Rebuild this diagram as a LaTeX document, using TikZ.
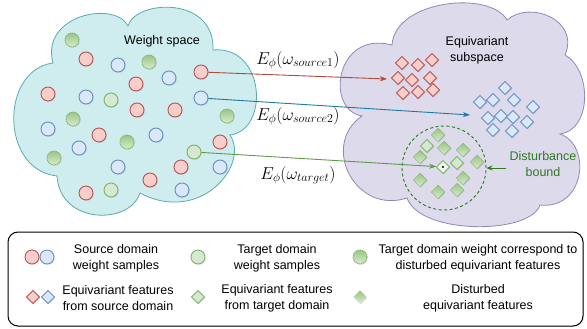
\documentclass[tikz,border=0pt]{standalone}
\usepackage{amsmath}
\usepackage{fontspec}
\setmainfont{Liberation Sans}
\usetikzlibrary{positioning, calc, shapes.geometric, shadows, arrows.meta}

\definecolor{redfill}{HTML}{F8CECC}
\definecolor{redline}{HTML}{B85450}
\definecolor{bluefill}{HTML}{DAE8FC}
\definecolor{blueline}{HTML}{6C8EBF}
\definecolor{greenfill}{HTML}{D5E8D4}
\definecolor{greenline}{HTML}{82B366}
\definecolor{greendark}{HTML}{9CC487}
\definecolor{greenlight}{HTML}{D8EBCF}
\definecolor{tealfill}{HTML}{CFEDEF}
\definecolor{tealline}{HTML}{5BAAB0}
\definecolor{lilacfill}{HTML}{DCDAEB}
\definecolor{lilacline}{HTML}{8E89B6}
\definecolor{redarrow}{HTML}{B04A3C}
\definecolor{bluearrow}{HTML}{1F78A0}
\definecolor{greenarrow}{HTML}{5F9A4A}
\definecolor{boundgreen}{HTML}{2D7A1F}

\tikzset{
    softshadow/.style={drop shadow={opacity=0.22, shadow xshift=0.8pt, shadow yshift=-0.8pt}},
    sample/.style={circle, minimum size=14pt, inner sep=0pt, line width=0.9pt, softshadow},
    srcred/.style={sample, draw=redline, fill=redfill},
    srcblue/.style={sample, draw=blueline, fill=bluefill},
    tgtgreen/.style={sample, draw=greenline, fill=greenfill},
    distgreen/.style={sample, draw=greenline, dash pattern=on 1.2pt off 0.8pt,
        top color=greendark, bottom color=greenlight},
    feat/.style={diamond, minimum size=13.5pt, inner sep=0pt, line width=0.9pt, softshadow},
    featred/.style={feat, draw=redline, fill=redfill},
    featblue/.style={feat, draw=blueline, fill=bluefill},
    featgreen/.style={feat, draw=greenline, fill=greenfill},
    featdist/.style={feat, draw=greenline, line width=0.5pt,
        top color=greendark, bottom color=greenlight},
    txt/.style={align=center, font=\fontsize{12.5}{16}\selectfont},
    maplabel/.style={font=\fontsize{17.28}{20}\selectfont},
    maparrow/.style={line width=0.9pt, -{Stealth[length=7pt, width=5pt, inset=2pt]}}
}

\begin{document}
\begin{tikzpicture}[x=1pt, y=-1pt]
    \useasboundingbox (0,0) rectangle (587,329);

    % weight space cloud
    \draw[tealline, fill=tealfill, line width=0.8pt]
        (53,63) .. controls (40,15) and (115,0) .. (128,26)
        .. controls (135,0) and (215,-5) .. (213,50)
        .. controls (265,45) and (270,130) .. (230,135)
        .. controls (250,165) and (200,225) .. (140,193)
        .. controls (130,225) and (60,225) .. (57,176)
        .. controls (0,170) and (0,70) .. (53,63) -- cycle;

    % equivariant subspace cloud
    \draw[lilacline, fill=lilacfill, line width=0.8pt]
        (362,116) .. controls (325,110) and (335,30) .. (392,45)
        .. controls (395,0) and (490,-10) .. (507,20)
        .. controls (530,0) and (580,20) .. (565,55)
        .. controls (592,70) and (592,130) .. (560,134)
        .. controls (592,145) and (585,210) .. (540,205)
        .. controls (530,235) and (420,235) .. (407,198)
        .. controls (355,215) and (320,145) .. (362,116) -- cycle;

    \node[txt] (wtitle) at (162,41) {Weight space};
    \node[txt] (etitle) at (477,50) {Equivariant\\subspace};

    % weight samples
    \foreach \x/\y [count=\i] in {86/59, 136/84, 48/94, 137/110, 175/110, 99/135,
            220/142, 181/167, 150/180, 86/193}
        \node[srcred] (r\i) at (\x,\y) {};
    \foreach \x/\y [count=\i] in {118/65, 169/78, 86/97, 48/129, 79/148, 156/135,
            118/167, 220/167, 182/190}
        \node[srcblue] (b\i) at (\x,\y) {};
    \foreach \x/\y [count=\i] in {111/100, 111/190}
        \node[tgtgreen] (g\i) at (\x,\y) {};
    \foreach \x/\y [count=\i] in {72/40, 149/62, 73/119, 54/158, 127/142, 227/116}
        \node[distgreen] (d\i) at (\x,\y) {};

    \node[srcred]   (srcA) at (201,72) {};
    \node[srcblue]  (srcB) at (201,98) {};
    \node[tgtgreen] (tgtA) at (194,152) {};

    % equivariant features
    \foreach \x/\y [count=\i] in {402/63, 418/65, 432/60, 398/78, 412/80, 430/78,
            403/93, 418/92, 433/90}
        \node[featred] (fr\i) at (\x,\y) {};
    \foreach \x/\y [count=\i] in {505/88, 480/102, 493/100, 514/100, 533/107,
            488/118, 501/116, 513/117, 527/122, 493/130, 512/131}
        \node[featblue] (fb\i) at (\x,\y) {};

    % disturbance region
    \node[circle, minimum size=84pt, draw=boundgreen, line width=0.9pt,
          dash pattern=on 3pt off 2.5pt] (bound) at (444,168) {};
    \foreach \x/\y [count=\i] in {438/135, 444/148, 463/150, 420/157, 477/162,
            420/180, 463/178, 438/192, 457/190}
        \node[featdist] (fd\i) at (\x,\y) {};
    \node[featgreen] (fg1) at (427,146) {};
    \node[featgreen] (fg2) at (457,163) {};
    \node[featgreen, fill=greenfill!40] (ctr) at (443,167) {};
    \fill (ctr) circle (1.1pt);

    \coordinate (redtip) at (387,79);
    \coordinate (bluetip) at (470,115);

    % mapping arrows
    \draw[maparrow, redarrow] (srcA) -- (redtip);
    \draw[maparrow, bluearrow] (srcB) -- (bluetip);
    \draw[maparrow, greenarrow] (tgtA) -- (ctr);

    \node[maplabel] (mapA) at (298,60) {$E_{\phi}(\omega_{source1})$};
    \node[maplabel] (mapB) at (298,116) {$E_{\phi}(\omega_{source2})$};
    \node[maplabel] (mapC) at (298,175) {$E_{\phi}(\omega_{target})$};

    \node[txt, text=boundgreen] (dtext) at (543,164) {Disturbance\\bound};
    \draw[line width=0.9pt, boundgreen, -{Stealth[length=6pt, width=5pt]}]
        (dtext.west |- bound.east) -- (bound.east);

    % legend
    \draw[rounded corners=10pt, line width=1pt, fill=white, softshadow]
        (8,232) rectangle (583,326);

    \node[srcred]  (lr)  at (32,257) {};
    \node[srcblue] (lb)  at (47,257) {};
    \node[txt] (lrtext) at (116,258) {Source domain\\weight samples};
    \node[tgtgreen] (lg) at (198,257) {};
    \node[txt] (lgtext) at (277,258) {Target domain\\weight samples};
    \node[distgreen] (ld) at (360,257) {};
    \node[txt] (ldtext) at (478,258) {Target domain weight correspond to\\disturbed equivariant features};

    \node[featred]  (lfr) at (33,297) {};
    \node[featblue] (lfb) at (48,297) {};
    \node[txt] (lfrtext) at (118,298) {Equivariant features\\from source domain};
    \node[featgreen] (lfg) at (198,297) {};
    \node[txt] (lfgtext) at (277,298) {Equivariant features\\from target domain};
    \node[featdist, draw=none] (lfd) at (360,297) {};
    \node[txt] (lfdtext) at (478,298) {Disturbed\\equivariant features};
\end{tikzpicture}
\end{document}
